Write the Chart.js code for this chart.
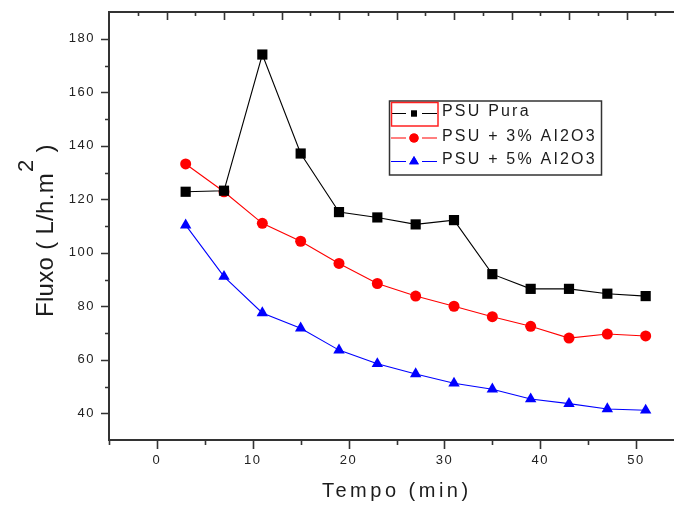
<!DOCTYPE html>
<html>
<head>
<meta charset="utf-8">
<script src="https://cdn.jsdelivr.net/npm/chart.js@4/dist/chart.umd.min.js"></script>
<style>
  html, body { margin: 0; padding: 0; background: #fff; overflow: hidden; }
  canvas { display: block; }
</style>
</head>
<body>
<canvas id="fluxChart" width="700" height="510" style="width:700px;height:510px"></canvas>
<script>
// flux vs time for the three membranes
const tempo = [3, 7, 11, 15, 19, 23, 27, 31, 35, 39, 43, 47, 51];
const psuPura = [122.8, 123.2, 174.1, 137.1, 115.2, 113.2, 110.6, 112.2, 92.0, 86.5, 86.5, 84.7, 83.8];
const psu3 = [133.2, 122.8, 111.0, 104.3, 96.0, 88.5, 83.8, 80.0, 76.1, 72.5, 68.1, 69.6, 68.9];
const psu5 = [110.3, 91.1, 77.5, 71.8, 63.6, 58.5, 54.7, 51.2, 49.0, 45.3, 43.6, 41.6, 41.1];

const seriesNames = ['PSU Pura', 'PSU + 3% AI2O3', 'PSU + 5% AI2O3'];

// axis labels that get text, the rest are minor ticks
const xLabelValues = [0, 10, 20, 30, 40, 50];
const yLabelValues = [40, 60, 80, 100, 120, 140, 160, 180];

const FONT = '"Liberation Sans", Arial, sans-serif';
const INK = '#1c1c1c';

function toPoints(ys) {
  return tempo.map((t, i) => ({ x: t, y: ys[i] }));
}

// frame, tick marks, legend and axis titles
const decorations = {
  id: 'decorations',
  beforeDraw(chart) {
    chart.ctx.letterSpacing = '1.5px';
  },
  afterDraw(chart) {
    const { ctx, chartArea: a, scales } = chart;
    ctx.save();
    ctx.letterSpacing = '0px';
    ctx.strokeStyle = '#333';
    ctx.lineWidth = 2;
    ctx.strokeRect(a.left, a.top, a.right - a.left, a.bottom - a.top);

    ctx.lineWidth = 1.6;
    ctx.beginPath();
    // bottom ticks point outwards
    scales.x.ticks.forEach(t => {
      if (t.value >= 55) return;
      const px = Math.round(scales.x.getPixelForValue(t.value)) + 0.5;
      const len = t.value % 10 === 0 ? 9 : 5;
      ctx.moveTo(px, a.bottom);
      ctx.lineTo(px, a.bottom + len);
    });
    // left ticks point outwards
    scales.y.ticks.forEach(t => {
      if (t.value <= 30 || t.value >= 190) return;
      const py = Math.round(scales.y.getPixelForValue(t.value)) + 0.5;
      const len = yLabelValues.includes(t.value) ? 8 : 4;
      ctx.moveTo(a.left, py);
      ctx.lineTo(a.left - len, py);
    });
    // top ticks point inwards
    scales.x2.ticks.forEach(t => {
      if (t.value <= 0 || t.value >= 60) return;
      const px = Math.round(scales.x2.getPixelForValue(t.value)) + 0.5;
      const len = t.value % 6 === 0 ? 8 : 4;
      ctx.moveTo(px, a.top);
      ctx.lineTo(px, a.top + len);
    });
    ctx.stroke();

    // legend
    const box = { x: 389.5, y: 101, w: 212, h: 74 };
    ctx.fillStyle = '#fff';
    ctx.fillRect(box.x, box.y, box.w, box.h);
    ctx.strokeStyle = '#333';
    ctx.lineWidth = 1.5;
    ctx.strokeRect(box.x, box.y, box.w, box.h);

    const rows = [113.5, 138, 161.5];
    const markerSizes = [4.2, 4.6, 5.6];
    chart.data.datasets.forEach((ds, i) => {
      const y = rows[i];
      ctx.strokeStyle = ds.borderColor;
      ctx.lineWidth = 1.2;
      ctx.beginPath();
      ctx.moveTo(391, y);
      ctx.lineTo(406, y);
      ctx.moveTo(422, y);
      ctx.lineTo(437, y);
      ctx.stroke();
      ctx.fillStyle = ds.backgroundColor;
      Chart.helpers.drawPoint(ctx, { pointStyle: ds.pointStyle, radius: markerSizes[i], borderWidth: 0 }, 414, y);
      ctx.fill();

      ctx.fillStyle = INK;
      ctx.font = '16px ' + FONT;
      ctx.letterSpacing = '2.2px';
      ctx.textAlign = 'left';
      ctx.textBaseline = 'middle';
      ctx.fillText(ds.label, 442, y - 1.5);
      ctx.letterSpacing = '0px';
    });
    // selection outline around the first legend sample
    ctx.strokeStyle = '#ff2020';
    ctx.lineWidth = 1.5;
    ctx.strokeRect(391.5, 102.5, 46.5, 23.5);

    // x title
    ctx.fillStyle = INK;
    ctx.font = '20px ' + FONT;
    ctx.letterSpacing = '3.5px';
    ctx.textAlign = 'left';
    ctx.textBaseline = 'alphabetic';
    ctx.fillText('Tempo (min)', 322, 497);

    // y title with raised exponent
    ctx.letterSpacing = '0.3px';
    ctx.translate(53, 317);
    ctx.rotate(-Math.PI / 2);
    ctx.font = '24px ' + FONT;
    const head = 'Fluxo ( L/h.m';
    ctx.fillText(head, 0, 0);
    let x = ctx.measureText(head).width + 1;
    ctx.font = '22px ' + FONT;
    ctx.fillText('2', x, -20);
    x += ctx.measureText('2').width;
    ctx.font = '24px ' + FONT;
    ctx.fillText(' )', x, 0);
    ctx.restore();
  }
};

const seriesStyles = [
  { color: '#000000', pointStyle: 'rect', radius: 7.2 },
  { color: '#ff0000', pointStyle: 'circle', radius: 5.5 },
  { color: '#0000ff', pointStyle: 'triangle', radius: 6.6 }
];

const datasets = [psuPura, psu3, psu5].map((ys, i) => ({
  label: seriesNames[i],
  data: toPoints(ys),
  borderColor: seriesStyles[i].color,
  backgroundColor: seriesStyles[i].color,
  borderWidth: 1.1,
  pointStyle: seriesStyles[i].pointStyle,
  pointRadius: seriesStyles[i].radius,
  pointBorderWidth: 0,
  pointHoverRadius: seriesStyles[i].radius,
  tension: 0
}));

// keep the plot frame exactly where the layout padding puts it
function noOverhang(scale) {
  scale.paddingTop = 0;
  scale.paddingBottom = 0;
  scale.paddingLeft = 0;
  scale.paddingRight = 0;
}

new Chart(document.getElementById('fluxChart'), {
  type: 'line',
  data: { datasets },
  options: {
    responsive: false,
    animation: false,
    devicePixelRatio: 1,
    events: [],
    layout: { autoPadding: false, padding: { top: 12, right: 16, bottom: 0, left: 0 } },
    plugins: {
      legend: { display: false },
      tooltip: { enabled: false }
    },
    scales: {
      x: {
        type: 'linear',
        position: 'bottom',
        min: -5,
        max: 55,
        grid: { display: false, drawTicks: false },
        border: { display: false },
        ticks: {
          stepSize: 5,
          autoSkip: false,
          maxRotation: 0,
          padding: 13,
          color: '#222',
          font: { family: FONT, size: 13 },
          callback: v => xLabelValues.includes(v) ? String(v) : ''
        },
        afterFit: scale => { scale.height = 70; noOverhang(scale); }
      },
      x2: {
        type: 'linear',
        position: 'top',
        min: 0,
        max: 60,
        grid: { display: false, drawTicks: false },
        border: { display: false },
        ticks: { display: false, stepSize: 3 },
        afterFit: scale => { scale.height = 0; noOverhang(scale); }
      },
      y: {
        min: 30,
        max: 190,
        grid: { display: false, drawTicks: false },
        border: { display: false },
        ticks: {
          stepSize: 10,
          autoSkip: false,
          padding: 14,
          color: '#222',
          font: { family: FONT, size: 13 },
          callback: v => yLabelValues.includes(v) ? String(v) : ''
        },
        afterFit: scale => { scale.width = 109; noOverhang(scale); }
      }
    }
  },
  plugins: [decorations]
});
</script>
</body>
</html>
